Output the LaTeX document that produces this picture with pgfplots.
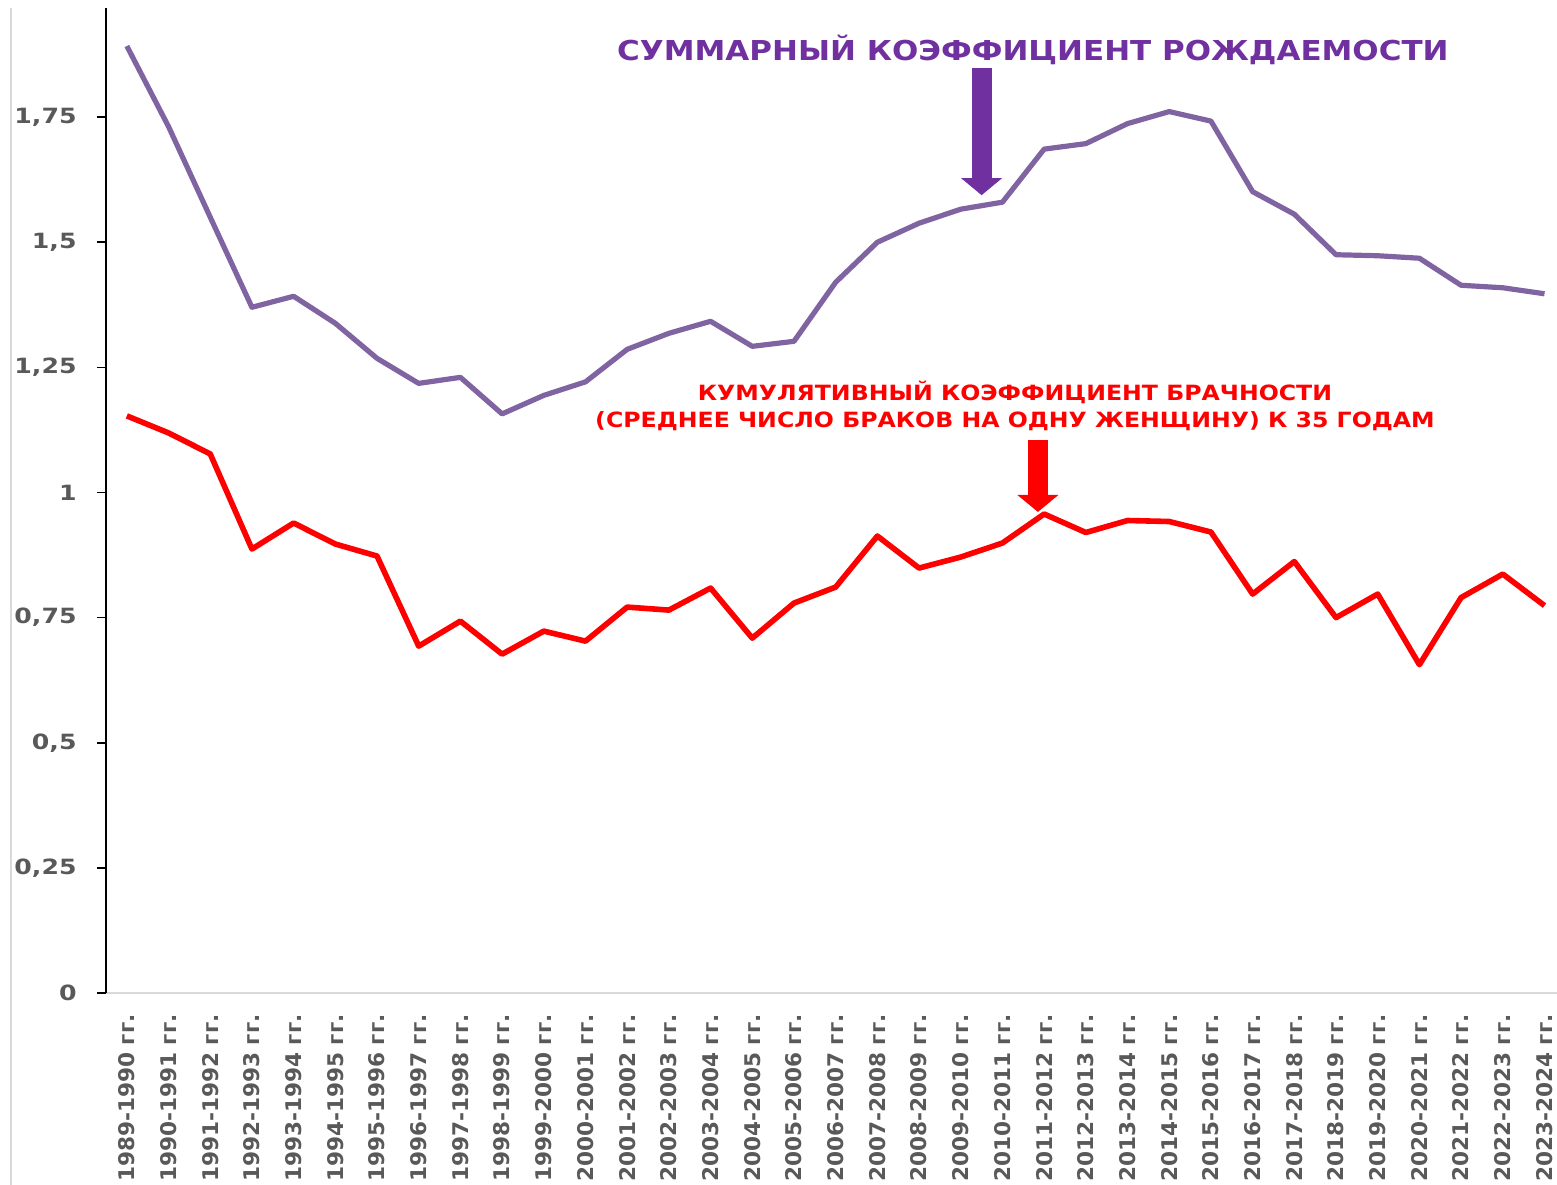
\documentclass[border=0pt]{standalone}
\usepackage{pgfplots}
\pgfplotsset{compat=1.18}
\usepackage{fontspec}
\setmainfont{Liberation Sans}
\newfontfamily\tickfont[FakeStretch=1.2]{DejaVu Sans}
\newfontfamily\xtickfont{DejaVu Sans}
\newfontfamily\titlefont[FakeStretch=1.13]{DejaVu Sans}
\newfontfamily\redfont[FakeStretch=1.125]{DejaVu Sans}
\usetikzlibrary{arrows.meta}
\definecolor{tickgray}{HTML}{595959}
\definecolor{lpurple}{HTML}{8064A2}
\definecolor{dpurple}{HTML}{7030A0}
\definecolor{axgray}{HTML}{D9D9D9}
\begin{document}
\begin{tikzpicture}
\begin{axis}[
  scale only axis,
  width=725.5pt, height=492.5pt,
  xmin=-0.5, xmax=34.3, ymin=0, ymax=1.968,
  axis lines=left,
  axis line style={-},
  x axis line style={draw=axgray, line width=0.8pt},
  y axis line style={draw=black, line width=1pt},
  xtick={0,...,34},
  xticklabels={1989-1990 гг.,1990-1991 гг.,1991-1992 гг.,1992-1993 гг.,1993-1994 гг.,1994-1995 гг.,1995-1996 гг.,1996-1997 гг.,1997-1998 гг.,1998-1999 гг.,1999-2000 гг.,2000-2001 гг.,2001-2002 гг.,2002-2003 гг.,2003-2004 гг.,2004-2005 гг.,2005-2006 гг.,2006-2007 гг.,2007-2008 гг.,2008-2009 гг.,2009-2010 гг.,2010-2011 гг.,2011-2012 гг.,2012-2013 гг.,2013-2014 гг.,2014-2015 гг.,2015-2016 гг.,2016-2017 гг.,2017-2018 гг.,2018-2019 гг.,2019-2020 гг.,2020-2021 гг.,2021-2022 гг.,2022-2023 гг.,2023-2024 гг.},
  x tick style={draw=none},
  xticklabel style={rotate=90, anchor=east, inner sep=0pt, font=\xtickfont\bfseries\fontsize{10.8}{12}\selectfont, text=tickgray},
  xticklabel shift=6pt,
  ytick={0,0.25,0.5,0.75,1,1.25,1.5,1.75},
  yticklabels={0,{0,25},{0,5},{0,75},1,{1,25},{1,5},{1,75}},
  y tick style={draw=black, line width=0.8pt},
  tick align=outside,
  major tick length=4.5pt,
  yticklabel style={anchor=east, inner sep=0pt, font=\tickfont\bfseries\fontsize{10.5}{12}\selectfont, text=tickgray},
  yticklabel shift=10pt,
  clip=false,
  line join=round,
]
\addplot[lpurple, line width=2.6pt] coordinates {
(0,1.892) (1,1.731) (2,1.550) (3,1.370) (4,1.392) (5,1.338) (6,1.268) (7,1.218) (8,1.230) (9,1.157)
(10,1.194) (11,1.221) (12,1.286) (13,1.318) (14,1.342) (15,1.292) (16,1.302) (17,1.420) (18,1.500) (19,1.538)
(20,1.566) (21,1.580) (22,1.686) (23,1.697) (24,1.737) (25,1.761) (26,1.742) (27,1.601) (28,1.556) (29,1.475)
(30,1.473) (31,1.468) (32,1.414) (33,1.409) (34,1.397)
};
\addplot[red, line width=2.8pt] coordinates {
(0,1.153) (1,1.119) (2,1.077) (3,0.887) (4,0.939) (5,0.897) (6,0.873) (7,0.693) (8,0.743) (9,0.677)
(10,0.723) (11,0.703) (12,0.771) (13,0.765) (14,0.809) (15,0.709) (16,0.779) (17,0.811) (18,0.913) (19,0.849)
(20,0.871) (21,0.899) (22,0.957) (23,0.920) (24,0.944) (25,0.942) (26,0.921) (27,0.797) (28,0.862) (29,0.750)
(30,0.797) (31,0.656) (32,0.790) (33,0.837) (34,0.774)
};
\node[text=dpurple, font=\titlefont\bfseries\fontsize{13.7}{15}\selectfont, inner sep=0pt] at (axis cs:21.73,1.884) {СУММАРНЫЙ КОЭФФИЦИЕНТ РОЖДАЕМОСТИ};
\draw[dpurple, line width=10pt, -{Triangle[width=20pt,length=8.5pt]}] (axis cs:20.5,1.848) -- (axis cs:20.5,1.594);
\node[text=red, font=\redfont\bfseries\fontsize{10.5}{14}\selectfont, inner sep=0pt] at (axis cs:21.3,1.199) {КУМУЛЯТИВНЫЙ КОЭФФИЦИЕНТ БРАЧНОСТИ};
\node[text=red, font=\redfont\bfseries\fontsize{10.5}{14}\selectfont, inner sep=0pt] at (axis cs:21.3,1.143) {(СРЕДНЕЕ ЧИСЛО БРАКОВ НА ОДНУ ЖЕНЩИНУ) К 35 ГОДАМ};
\draw[red, line width=10pt, -{Triangle[width=20pt,length=8.5pt]}] (axis cs:21.85,1.105) -- (axis cs:21.85,0.961);
\coordinate (sw) at (rel axis cs:0,0);
\coordinate (ne) at (rel axis cs:1,1);
\coordinate (nw) at (rel axis cs:0,1);
\end{axis}
\draw[axgray, line width=0.6pt] ([xshift=-47.5pt]nw) -- ([xshift=-47.5pt,yshift=-96pt]sw);
\pgfresetboundingbox
\path ([shift={(-53pt,-96pt)}]sw) rectangle ([shift={(0pt,4pt)}]ne);
\end{tikzpicture}
\end{document}
